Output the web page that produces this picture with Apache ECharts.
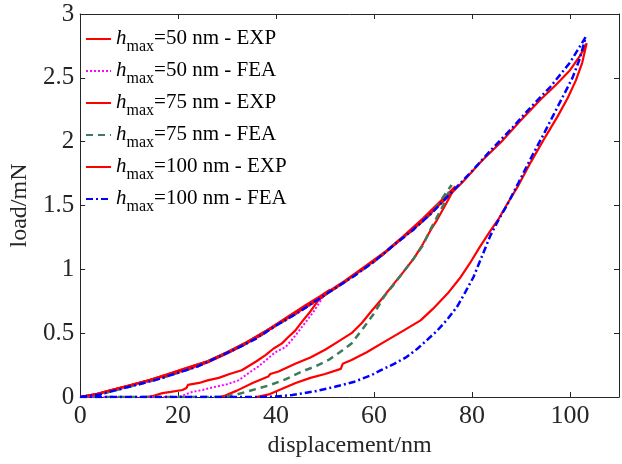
<!DOCTYPE html>
<html>
<head>
<meta charset="utf-8">
<script src="https://cdn.jsdelivr.net/npm/echarts@6/dist/echarts.min.js"></script>
<style>
  html, body { margin: 0; padding: 0; background: #fff; }
  #chart { width: 622px; height: 464px; }
</style>
</head>
<body>
<div id="chart"></div>
<script>
// tick labels
var xTicks = [0, 20, 40, 60, 80, 100];
var yTicks = [0, 0.5, 1, 1.5, 2, 2.5, 3];

// legend labels (part after the italic h_max)
var legendText = ["=50 nm - EXP", "=50 nm - FEA", "=75 nm - EXP", "=75 nm - FEA", "=100 nm - EXP", "=100 nm - FEA"];

// [displacement nm, load mN]
var exp50 = [[0,0],[3,0.02],[6,0.05],[10,0.09],[14,0.13],[18,0.18],[22,0.23],[26,0.28],[30,0.35],[34,0.43],[38,0.52],[42,0.62],[46,0.72],[49,0.79],[51,0.84],
  [50,0.80],[48.7,0.76],[47,0.67],[45.5,0.60],[43.9,0.52],[42.5,0.47],[41.2,0.42],[39.5,0.38],[37.9,0.33],[36,0.28],[33,0.21],[30.5,0.18],[28.3,0.15],[26,0.13],[24.3,0.11],[22,0.095],[21.7,0.07],[20.9,0.055],[18.5,0.04],[16.8,0.03],[15,0.01],[13.5,0]];
var fea50 = [[0,0],[4,0.02],[8,0.06],[12,0.1],[16,0.14],[20,0.19],[24,0.24],[28,0.31],[32,0.38],[36,0.46],[40,0.56],[44,0.65],[47,0.72],[49.5,0.78],
  [48.7,0.73],[47.5,0.66],[46.5,0.61],[45.3,0.55],[43.5,0.46],[41.9,0.39],[39.8,0.35],[38,0.29],[36.4,0.24],[34.5,0.19],[32.3,0.13],[30,0.10],[27,0.075],[25,0.055],[22.9,0.04],[21.5,0.02],[20.2,0],[0,0]];
var exp75 = [[0,0],[3,0.02],[6,0.05],[10,0.09],[14,0.13],[18,0.18],[22,0.23],[26,0.28],[30,0.35],[34,0.43],[38,0.52],[42,0.61],[46,0.71],[50,0.81],[54,0.91],[58,1.02],[62,1.13],[66,1.26],[70,1.40],[74,1.55],[76.6,1.65],
  [75.5,1.57],[74.5,1.50],[72.9,1.39],[71.6,1.31],[70,1.20],[68.2,1.09],[66,0.98],[64.1,0.89],[61.4,0.76],[59.4,0.67],[57.5,0.58],[55.4,0.50],[52.5,0.43],[50,0.37],[47,0.31],[43.9,0.26],[40.5,0.20],[38.8,0.18],[38.4,0.16],[35.2,0.11],[32,0.05],[29.5,0.01],[28.5,0]];
var fea75 = [[0,0],[4,0.02],[8,0.06],[12,0.1],[16,0.14],[20,0.19],[24,0.24],[28,0.31],[32,0.38],[36,0.46],[40,0.56],[44,0.65],[48,0.75],[52,0.85],[56,0.95],[60,1.06],[64,1.19],[68,1.31],[72,1.45],[75.8,1.66],
  [74.5,1.53],[73,1.42],[71.6,1.32],[70,1.19],[68,1.08],[66.2,0.99],[64,0.88],[62.1,0.79],[60.1,0.66],[58,0.55],[55.4,0.42],[53,0.35],[50.7,0.29],[48,0.24],[45.3,0.20],[42,0.14],[38.5,0.09],[35.2,0.055],[32,0.02],[29,0],[0,0]];
var exp100 = [[0,0],[3,0.02],[6,0.05],[10,0.09],[14,0.13],[18,0.17],[22,0.22],[26,0.27],[30,0.34],[34,0.42],[38,0.51],[42,0.61],[46,0.70],[50,0.80],[54,0.90],[58,1.01],[62,1.12],[66,1.25],[70,1.38],[74,1.53],[78,1.68],[82,1.85],[86,2.0],[90,2.17],[94,2.33],[97,2.44],[100,2.56],[102,2.67],[103.4,2.77],
  [102.5,2.62],[101.2,2.48],[99.5,2.34],[97.5,2.2],[95,2.04],[92,1.84],[89.5,1.66],[87,1.50],[85.5,1.40],[83.7,1.30],[81.5,1.17],[79.6,1.05],[77.5,0.93],[75,0.81],[72,0.69],[69.5,0.60],[66,0.52],[62,0.43],[58.5,0.35],[55.4,0.29],[53.6,0.26],[53.2,0.22],[50,0.18],[47,0.15],[44,0.11],[41,0.06],[38.5,0.02],[36,0]];
var fea100 = [[0,0],[4,0.02],[8,0.06],[12,0.1],[16,0.14],[20,0.19],[24,0.24],[28,0.31],[32,0.38],[36,0.46],[40,0.56],[44,0.65],[48,0.75],[52,0.85],[56,0.95],[60,1.06],[64,1.19],[68,1.31],[72,1.45],[76,1.61],[80,1.77],[84,1.94],[88,2.10],[92,2.27],[96,2.43],[100,2.62],[103.2,2.82],
  [102,2.65],[100.5,2.5],[98.5,2.35],[96.5,2.2],[94.5,2.05],[92,1.87],[89.5,1.68],[87.1,1.50],[85.3,1.38],[83.7,1.26],[82,1.10],[80.3,0.94],[78.6,0.82],[77,0.71],[75,0.61],[72.9,0.52],[70.9,0.45],[68.9,0.38],[66.5,0.31],[64.1,0.26],[61.4,0.21],[59.4,0.17],[56,0.12],[52,0.08],[48,0.045],[43.3,0.016],[40,0.004],[37,0],[0,0]];

var font = "Liberation Serif";
var axisColor = "#262626";

var myChart = echarts.init(document.getElementById("chart"));

function makeSeries(i, data, color, type, width) {
  return {
    name: "h" + legendText[i],
    type: "line",
    data: data,
    symbol: "none",
    smooth: false,
    animation: false,
    lineStyle: { color: color, width: width, type: type },
    itemStyle: { color: color }
  };
}

var axisCommon = {
  axisLine: { show: true, onZero: false, lineStyle: { color: axisColor, width: 1 } },
  axisTick: { show: true, inside: true, length: 5, lineStyle: { color: axisColor } },
  splitLine: { show: false }
};

var option = {
  backgroundColor: "#fff",
  grid: { left: 76, right: 3, top: 14, bottom: 67, containLabel: false },
  legend: {
    orient: "vertical",
    left: 80,
    top: 23,
    itemWidth: 25,
    itemHeight: 12,
    itemGap: 5,
    itemStyle: { opacity: 0 },
    data: legendText.map(function(t) { return "h" + t; }),
    formatter: function(name) {
      return "{h|h}{m|max}{t|" + name.slice(1) + "}";
    },
    textStyle: {
      rich: {
        h: { fontFamily: font, fontStyle: "italic", fontSize: 21, lineHeight: 22, verticalAlign: "top", color: "#000" },
        m: { fontFamily: font, fontSize: 16, lineHeight: 16, padding: [11, 0, 0, 0], verticalAlign: "top", color: "#000" },
        t: { fontFamily: font, fontSize: 21, lineHeight: 22, verticalAlign: "top", color: "#000" }
      }
    }
  },
  xAxis: [
    Object.assign({
      type: "value",
      position: "bottom",
      min: 0,
      max: 110,
      interval: 20,
      name: "displacement/nm",
      nameLocation: "middle",
      nameGap: 36,
      nameTextStyle: { fontFamily: font, fontSize: 24, color: "#262626" },
      axisLabel: { fontFamily: font, fontSize: 26, color: "#262626", margin: 6, showMaxLabel: false }
    }, axisCommon),
    Object.assign({
      type: "value",
      position: "top",
      min: 0,
      max: 110,
      interval: 20,
      axisLabel: { show: false }
    }, axisCommon)
  ],
  yAxis: [
    Object.assign({
      type: "value",
      position: "left",
      min: 0,
      max: 3,
      interval: 0.5,
      name: "load/mN",
      nameLocation: "middle",
      nameGap: 30,
      nameTextStyle: { fontFamily: font, fontSize: 24, color: "#262626" },
      axisLabel: { fontFamily: font, fontSize: 25, color: "#262626", margin: 6 }
    }, axisCommon),
    Object.assign({
      type: "value",
      position: "right",
      min: 0,
      max: 3,
      interval: 0.5,
      axisLabel: { show: false }
    }, axisCommon)
  ],
  series: [
    makeSeries(0, exp50, "#ff0000", "solid", 2.2),
    makeSeries(1, fea50, "#ff00ff", [2, 2], 2),
    makeSeries(2, exp75, "#ff0000", "solid", 2.2),
    makeSeries(3, fea75, "#3f7a5c", [7, 5], 2.5),
    makeSeries(4, exp100, "#ff0000", "solid", 2.2),
    makeSeries(5, fea100, "#0000ff", [7, 3, 2, 3], 2.5)
  ]
};

myChart.setOption(option);
</script>
</body>
</html>
